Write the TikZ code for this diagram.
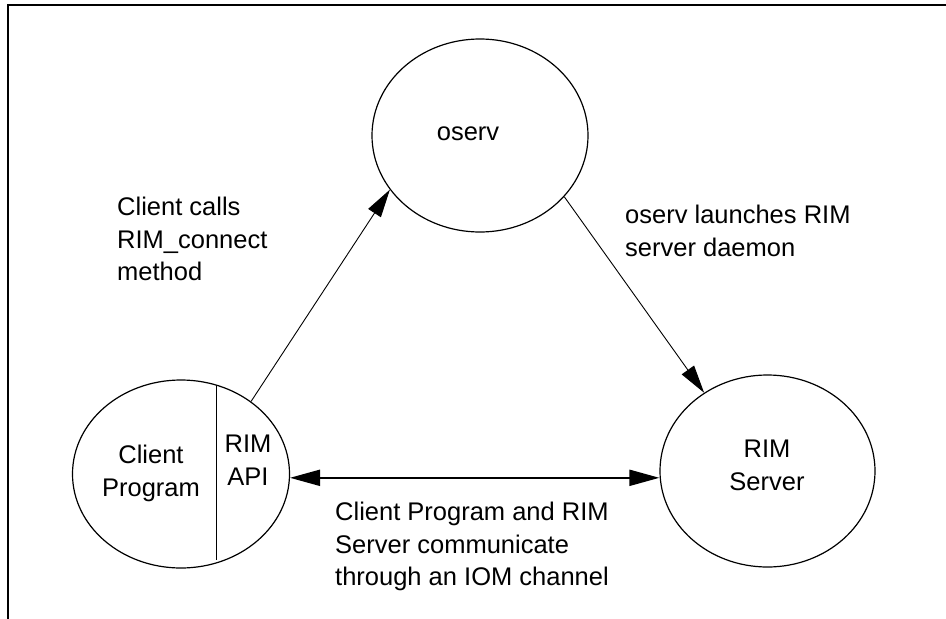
\documentclass[tikz,border=0pt]{standalone}
\usepackage{fontspec}
\setmainfont{Liberation Sans}
\usetikzlibrary{arrows.meta,shapes.geometric}
\begin{document}
\begin{tikzpicture}[x=1pt,y=-1pt,
  proc/.style={draw,ellipse,line width=1.2pt,inner sep=0pt},
  txt/.style={font=\fontsize{25.5}{32.5}\selectfont,inner sep=0pt},
  flow/.style={line width=0.9pt,-{Triangle[length=28pt,width=15pt]}},
  frame/.style={line width=2pt}]
\useasboundingbox (0,0) rectangle (946,619);
% page frame: top and left edges only
\draw[frame] (8,619) -- (8,5) -- (946,5);

% processes
\node[proc,minimum width=216pt,minimum height=193pt] (os) at (480,135.5) {};
\node[proc,minimum width=217pt,minimum height=188pt] (cl) at (181,474) {};
\node[proc,minimum width=215pt,minimum height=192pt] (srv) at (767.5,471) {};

% RIM API part of the client
\draw[line width=0.9pt] (216,385) -- (216,560);

% process names
\node[txt,anchor=base] (ostxt) at (468,140) {oserv};
\node[txt,anchor=north,align=center] (cltxt) at (151,445) {Client\\Program};
\node[txt,anchor=north,align=center] (apitxt) at (248,435) {RIM\\API};
\node[txt,anchor=north,align=center] (srvtxt) at (767,440) {RIM\\Server};

% connectors
\draw[flow] (cl.46.5) -- (os.211);
\draw[flow] (os.-36) -- (srv.129);
\draw[line width=2pt,{Triangle[length=30pt,width=16pt]}-{Triangle[length=30pt,width=16pt]}]
  (cl.-2.6) -- (cl.-2.6 -| srv.west);

% connector labels
\node[txt,anchor=north west,align=left] (l1) at (117,197) {Client calls\\RIM\_connect\\method};
\node[txt,anchor=north west,align=left] (l2) at (625,205) {oserv launches RIM\\server daemon};
\node[txt,anchor=north west,align=left] (l3) at (335,502) {Client Program and RIM\\Server communicate\\through an IOM channel};
\end{tikzpicture}
\end{document}
